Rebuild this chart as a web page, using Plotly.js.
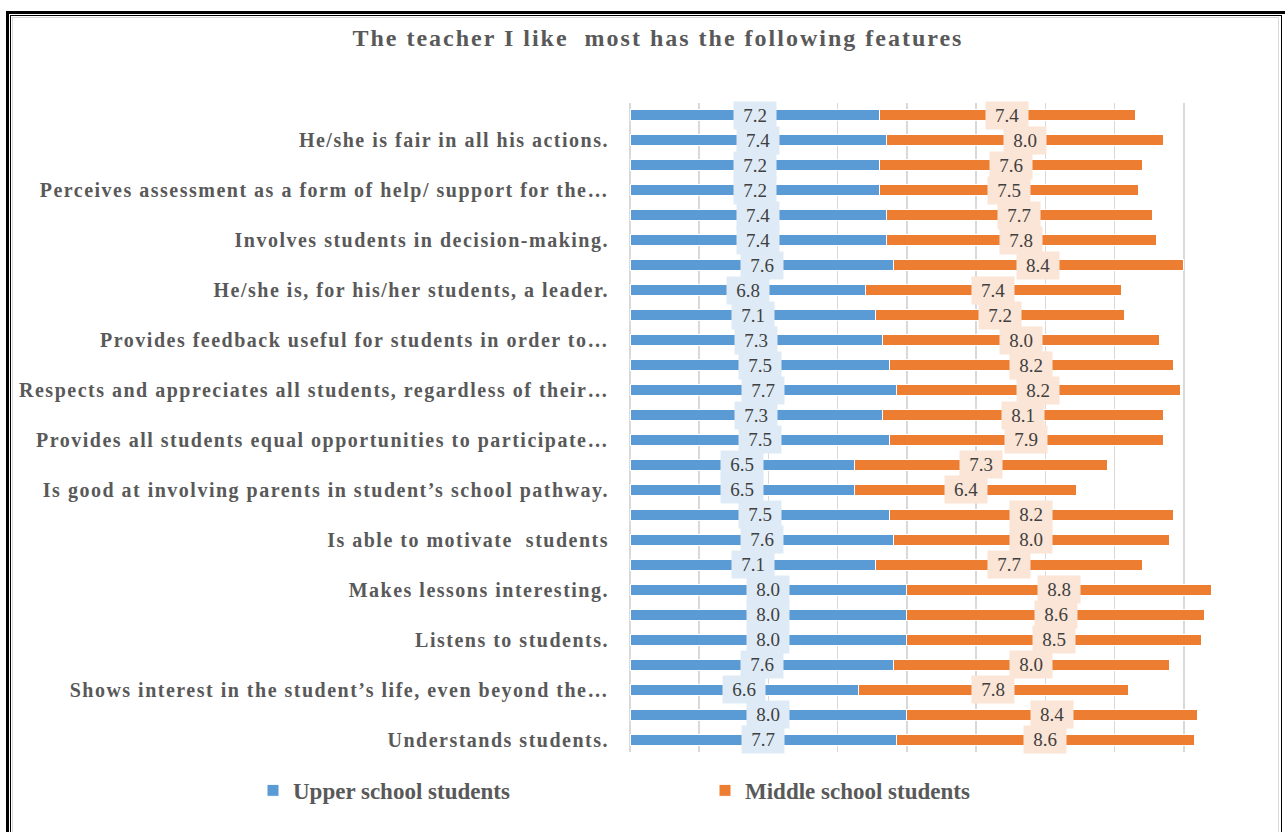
<!DOCTYPE html>
<html>
<head>
<meta charset="utf-8">
<script src="https://cdn.plot.ly/plotly-3.0.1.min.js"></script>
<style>
  html, body { margin: 0; padding: 0; background: #fff; }
  #wrap { position: relative; width: 1285px; height: 832px; overflow: hidden; }
  #chart { position: absolute; left: 0; top: 0; width: 1285px; height: 832px; }
  .frame { position: absolute; pointer-events: none; box-sizing: border-box; }
  #chart .gtitle { letter-spacing: 2px; }
  #chart .ytick text { letter-spacing: 1.5px; }
</style>
</head>
<body>
<div id="wrap">
  <div id="chart"></div>
  <div class="frame" style="left:6px; top:11px; width:1282px; height:840px; border:3px solid #000;"></div>
  <div class="frame" style="left:10px; top:15px; width:1272px; height:840px; border:1.5px solid #000;"></div>
  <div class="frame" style="left:12px; top:17px; width:1267px; height:840px; border:1px solid #d9d9d9;"></div>
</div>
<script>
// Rows listed top to bottom
const labels = [
  "",
  "He/she is fair in all his actions.",
  "",
  "Perceives assessment as a form of help/ support for the…",
  "",
  "Involves students in decision-making.",
  "",
  "He/she is, for his/her students, a leader.",
  "",
  "Provides feedback useful for students in order to…",
  "",
  "Respects and appreciates all students, regardless of their…",
  "",
  "Provides all students equal opportunities to participate…",
  "",
  "Is good at involving parents in student’s school pathway.",
  "",
  "Is able to motivate  students",
  "",
  "Makes lessons interesting.",
  "",
  "Listens to students.",
  "",
  "Shows interest in the student’s life, even beyond the…",
  "",
  "Understands students."
];
const upperSchool = [7.2, 7.4, 7.2, 7.2, 7.4, 7.4, 7.6, 6.8, 7.1, 7.3, 7.5, 7.7, 7.3, 7.5, 6.5, 6.5, 7.5, 7.6, 7.1, 8.0, 8.0, 8.0, 7.6, 6.6, 8.0, 7.7];
const middleSchool = [7.4, 8.0, 7.6, 7.5, 7.7, 7.8, 8.4, 7.4, 7.2, 8.0, 8.2, 8.2, 8.1, 7.9, 7.3, 6.4, 8.2, 8.0, 7.7, 8.8, 8.6, 8.5, 8.0, 7.8, 8.4, 8.6];
const seriesNames = ["Upper school students", "Middle school students"];

const rows = labels.map((_, i) => i);
const tickRows = rows.filter(i => labels[i] !== "");
const tickText = tickRows.map(i => labels[i]);

const serif = "Liberation Serif, Times New Roman, serif";
const blue = "#5B9BD5", orange = "#ED7D31";

const traces = [
  {
    type: "bar", orientation: "h", name: seriesNames[0],
    y: rows, x: upperSchool, legend: "legend",
    marker: { color: blue, line: { color: "#ffffff", width: 1 } },
    hoverinfo: "x"
  },
  {
    type: "bar", orientation: "h", name: seriesNames[1],
    y: rows, x: middleSchool, legend: "legend2",
    marker: { color: orange, line: { color: "#ffffff", width: 1 } },
    hoverinfo: "x"
  }
];

const annotations = [];
rows.forEach(i => {
  annotations.push({
    x: upperSchool[i] / 2, y: i, xref: "x", yref: "y",
    text: upperSchool[i].toFixed(1), showarrow: false,
    font: { family: serif, size: 19, color: "#404040" },
    bgcolor: "#DEEBF7", width: 42, height: 27, borderpad: 0
  });
  annotations.push({
    x: upperSchool[i] + middleSchool[i] / 2, y: i, xref: "x", yref: "y",
    text: middleSchool[i].toFixed(1), showarrow: false,
    font: { family: serif, size: 19, color: "#404040" },
    bgcolor: "#FBE5D6", width: 42, height: 27, borderpad: 0
  });
});

const legendFont = { family: serif, size: 23, color: "#595959", weight: "bold" };

const layout = {
  width: 1285, height: 832,
  margin: { l: 630, r: 32, t: 103, b: 80, pad: 0 },
  paper_bgcolor: "#ffffff", plot_bgcolor: "#ffffff",
  barmode: "stack", bargap: 0.56,
  title: {
    text: "<b>The teacher I like  most has the following features</b>",
    font: { family: serif, size: 24, color: "#595959" },
    xref: "container", x: 0.512, xanchor: "center",
    yref: "container", y: 0.955, yanchor: "middle"
  },
  xaxis: {
    range: [0, 18], dtick: 2, tick0: 0,
    showgrid: true, gridcolor: "#D9D9D9", gridwidth: 1.5,
    zeroline: true, zerolinecolor: "#D9D9D9", zerolinewidth: 1.5,
    showticklabels: false, showline: false, fixedrange: true
  },
  yaxis: {
    range: [25.5, -0.5], tickmode: "array", tickvals: tickRows, ticktext: tickText,
    showgrid: false, zeroline: false, showline: false,
    ticks: "outside", ticklen: 16, tickcolor: "rgba(0,0,0,0)",
    tickfont: { family: serif, size: 20, color: "#595959", weight: "bold" },
    fixedrange: true
  },
  showlegend: true,
  legend: {
    orientation: "h", xref: "container", yref: "container",
    x: 253 / 1285, xanchor: "left", y: 0.05, yanchor: "middle",
    font: legendFont, itemclick: false, itemdoubleclick: false
  },
  legend2: {
    orientation: "h", xref: "container", yref: "container",
    x: 705 / 1285, xanchor: "left", y: 0.05, yanchor: "middle",
    font: legendFont, itemclick: false, itemdoubleclick: false
  },
  annotations: annotations
};

Plotly.newPlot("chart", traces, layout, { displayModeBar: false, staticPlot: true });
</script>
</body>
</html>
